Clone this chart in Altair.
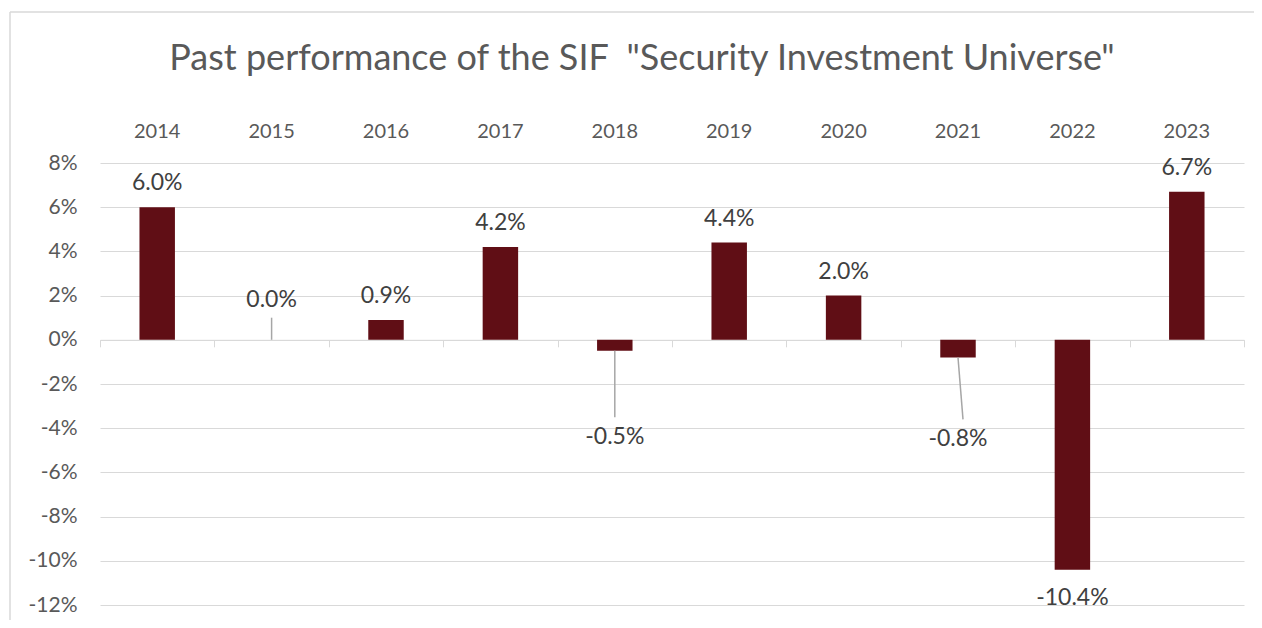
import altair as alt
import pandas as pd

years = ["2014", "2015", "2016", "2017", "2018", "2019", "2020", "2021", "2022", "2023"]
returns = [6.0, 0.0, 0.9, 4.2, -0.5, 4.4, 2.0, -0.8, -10.4, 6.7]
labels = ["6.0%", "0.0%", "0.9%", "4.2%", "-0.5%", "4.4%", "2.0%", "-0.8%", "-10.4%", "6.7%"]

# labels that sit away from their bars, joined by leader lines
moved_years = ["2015", "2018", "2021"]
moved_label_at = [1.8, -4.4, -4.5]
leader_end = [1.0, -3.5, -3.6]

y_ticks = [-12, -10, -8, -6, -4, -2, 0, 2, 4, 6, 8]

FONT = "Lato"
BAR = "#600E15"
GRID = "#D9D9D9"
AXIS_TXT = "#595959"
LBL_TXT = "#404040"

W, H = 1144, 442
zero_px = (8 / 20) * H

df = pd.DataFrame({"year": years, "value": returns, "label": labels})
df["moved"] = df["year"].isin(moved_years)

mv = df[df["moved"]].copy()
mv["label_at"] = moved_label_at
mv["end"] = leader_end

xscale = alt.Scale(domain=years, paddingInner=0, paddingOuter=0)
yscale = alt.Scale(domain=[-12, 8], nice=False, zero=False)

y_axis = alt.Axis(
    values=y_ticks,
    labelExpr="datum.value + '%'",
    title=None,
    domain=False,
    ticks=False,
    grid=True,
    gridColor=GRID,
    gridWidth=1,
    labelFont=FONT,
    labelFontSize=21,
    labelColor=AXIS_TXT,
    labelPadding=23,
)


def y_of(field):
    return alt.Y(field, scale=yscale, axis=y_axis)


x_top = alt.X(
    "year:N",
    scale=xscale,
    sort=years,
    axis=alt.Axis(
        orient="top",
        title=None,
        domain=False,
        ticks=False,
        grid=False,
        labelAngle=0,
        labelFont=FONT,
        labelFontSize=20,
        labelColor=AXIS_TXT,
        labelPadding=22,
    ),
)

x_zero = alt.X(
    "year:N",
    scale=xscale,
    sort=years,
    axis=alt.Axis(
        orient="bottom",
        offset=-(H - zero_px),
        title=None,
        labels=False,
        domain=True,
        domainColor=GRID,
        domainWidth=1,
        ticks=True,
        tickColor=GRID,
        tickSize=7,
        tickBand="extent",
        grid=False,
    ),
)

x_plain = alt.X("year:N", scale=xscale, sort=years, axis=None)

bars = alt.Chart(df).mark_bar(color=BAR, width={"band": 0.31}).encode(x=x_top, y=y_of("value:Q"))

txt_kw = dict(font=FONT, fontSize=23, color=LBL_TXT, baseline="middle", align="center")

pos_txt = (
    alt.Chart(df)
    .transform_filter("!datum.moved && datum.value >= 0")
    .mark_text(dy=-24, **txt_kw)
    .encode(x=x_zero, y=y_of("value:Q"), text="label:N")
)
neg_txt = (
    alt.Chart(df)
    .transform_filter("!datum.moved && datum.value < 0")
    .mark_text(dy=28, **txt_kw)
    .encode(x=x_plain, y=y_of("value:Q"), text="label:N")
)
moved_txt = (
    alt.Chart(mv)
    .mark_text(**txt_kw)
    .encode(x=x_plain, y=y_of("label_at:Q"), text="label:N")
)
leaders = (
    alt.Chart(mv)
    .transform_filter("datum.year != '2021'")
    .mark_rule(color="#A6A6A6", strokeWidth=1.5)
    .encode(x=x_plain, y=y_of("value:Q"), y2="end:Q")
)
leader_slant = (
    alt.Chart(mv)
    .transform_filter("datum.year == '2021'")
    .mark_rule(color="#A6A6A6", strokeWidth=1.5, x2Offset=5)
    .encode(x=x_plain, x2="year:N", y=y_of("value:Q"), y2="end:Q")
)

frame_df = pd.DataFrame({"f": [0]})
frame_left = alt.Chart(frame_df).mark_rule(color=GRID, strokeWidth=1.5).encode(
    x=alt.value(-90), y=alt.value(-151), y2=alt.value(H + 20)
)
frame_top = alt.Chart(frame_df).mark_rule(color=GRID, strokeWidth=1.5).encode(
    x=alt.value(-90), x2=alt.value(W + 20), y=alt.value(-151)
)

chart = (
    alt.layer(frame_left, frame_top, bars, leaders, leader_slant, pos_txt, neg_txt, moved_txt)
    .resolve_axis(x="independent")
    .properties(
        width=W,
        height=H,
        autosize=alt.AutoSizeParams(type="none"),
        padding={"left": 92, "top": 155, "right": 10, "bottom": 15},
        title=alt.TitleParams(
            text='Past performance of the SIF\u00a0\u00a0"Security Investment Universe"',
            font=FONT,
            fontSize=36,
            fontWeight="normal",
            color=AXIS_TXT,
            anchor="middle",
            offset=-67,
            dx=-30,
        ),
    )
    .configure_view(stroke=None)
)

chart.save("out.html", embed_options={"renderer": "svg", "actions": False})
